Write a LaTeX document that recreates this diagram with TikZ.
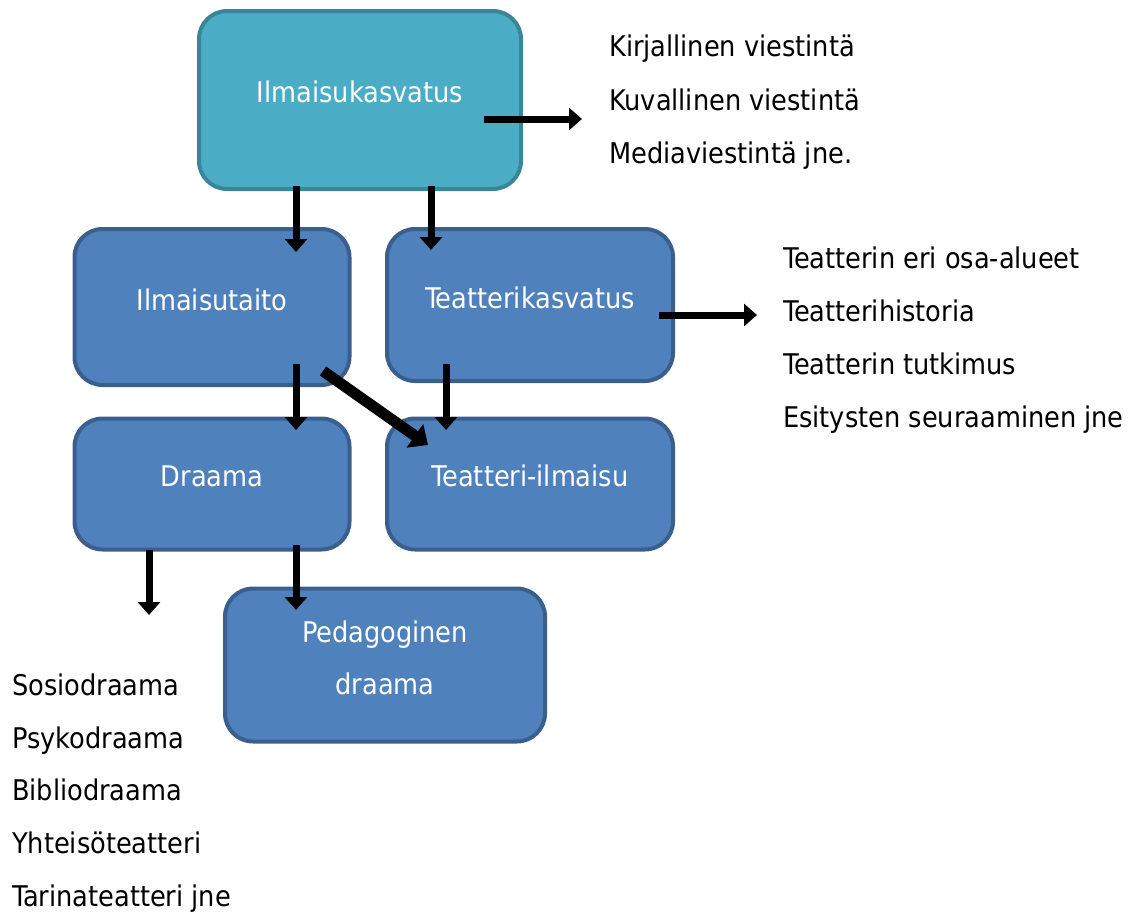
\documentclass[tikz,border=0pt]{standalone}
\usepackage{fontspec}
\setmainfont{DejaVu Sans Condensed}
\usepackage{tikz}
\usetikzlibrary{arrows.meta}
\definecolor{tealfill}{HTML}{4BACC6}
\definecolor{tealline}{HTML}{3B8599}
\definecolor{bluefill}{HTML}{4F81BD}
\definecolor{blueline}{HTML}{3A5F8C}

\begin{document}
\begin{tikzpicture}[x=1pt,y=-1pt,
  box/.style={draw=blueline,fill=bluefill,line width=4pt,rounded corners=28pt,
    inner sep=0pt},
  topbox/.style={box,draw=tealline,fill=tealfill},
  lbl/.style={font=\fontsize{28.5}{32}\selectfont,text=white,inner sep=0pt,
    text height=24pt,text depth=3pt},
  item/.style={anchor=west,font=\fontsize{28.5}{32}\selectfont,inner sep=0pt,
    text height=24pt,text depth=3pt},
  arr/.style={line width=7pt,-{Triangle[width=22pt,length=13pt]}}]
  \useasboundingbox (0,0) rectangle (1128,913);
  % boxes
  \node[topbox,minimum width=322pt,minimum height=178pt] (kasv) at (360,100) {};
  \node[lbl] (kasvt) at (360,92) {Ilmaisukasvatus};
  \node[box,minimum width=275pt,minimum height=156pt] (taito) at (212,307) {};
  \node[lbl] (taitot) at (212,300) {Ilmaisutaito};
  \node[box,minimum width=286pt,minimum height=152pt] (tkasv) at (530,305) {};
  \node[lbl] (tkasvt) at (530,298) {Teatterikasvatus};
  \node[box,minimum width=275pt,minimum height=131pt] (draama) at (212,484) {};
  \node[lbl] (draamat) at (212,476) {Draama};
  \node[box,minimum width=286pt,minimum height=131pt] (tilm) at (530,484) {};
  \node[lbl] (tilmt) at (530,476) {Teatteri-ilmaisu};
  \node[box,minimum width=320pt,minimum height=153pt] (peda) at (385,665) {};
  \node[lbl] (pedat1) at (385,632) {Pedagoginen};
  \node[lbl] (pedat2) at (385,684) {draama};
  % lists
  \node[item] (k1) at (609,46) {Kirjallinen viestintä};
  \node[item] (k2) at (609,100) {Kuvallinen viestintä};
  \node[item] (k3) at (609,153) {Mediaviestintä jne.};
  \node[item] (t1) at (783,258) {Teatterin eri osa-alueet};
  \node[item] (t2) at (783,311) {Teatterihistoria};
  \node[item] (t3) at (783,364) {Teatterin tutkimus};
  \node[item] (t4) at (783,417) {Esitysten seuraaminen jne};
  \node[item] (d1) at (12,685) {Sosiodraama};
  \node[item] (d2) at (12,738) {Psykodraama};
  \node[item] (d3) at (12,790) {Bibliodraama};
  \node[item] (d4) at (12,843) {Yhteisöteatteri};
  \node[item] (d5) at (12,896) {Tarinateatteri jne};
  % arrow ends
  \coordinate (a1) at (484,119); \coordinate (b1) at (582,119);
  \coordinate (a2) at (296,186); \coordinate (b2) at (296,252);
  \coordinate (a3) at (431,186); \coordinate (b3) at (431,250);
  \coordinate (a4) at (659,315); \coordinate (b4) at (757,315);
  \coordinate (a5) at (296,364); \coordinate (b5) at (296,430);
  \coordinate (a6) at (323,371); \coordinate (b6) at (428,445);
  \coordinate (a7) at (446,364); \coordinate (b7) at (446,430);
  \coordinate (a8) at (149,550); \coordinate (b8) at (149,615);
  \coordinate (a9) at (296,545); \coordinate (b9) at (296,610);
  \foreach \i in {1,2,3,4,5,7,8,9}
    \draw[arr] (a\i) -- (b\i);
  \draw[line width=11pt,-{Triangle[width=28pt,length=16pt]}] (a6) -- (b6);
\end{tikzpicture}
\end{document}
